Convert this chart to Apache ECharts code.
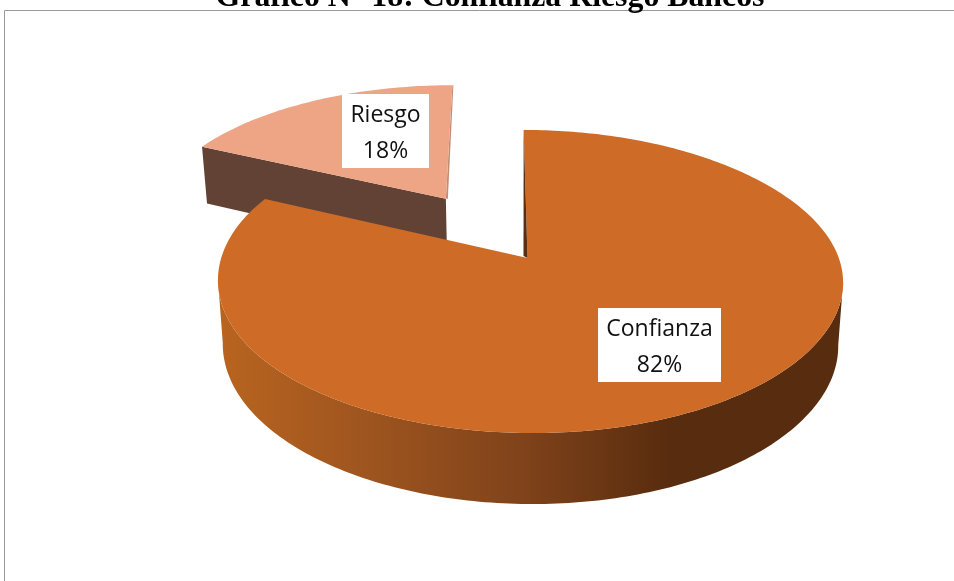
<!DOCTYPE html>
<html><head><meta charset="utf-8">
<style>html,body{margin:0;padding:0;background:#fff;overflow:hidden}#c{width:954px;height:581px}</style>
<script src="https://cdn.jsdelivr.net/npm/echarts@6/dist/echarts.min.js"></script>
</head><body><div id="c"></div>
<script>
var titleText = 'Gráfico N° 18: Confianza Riesgo Bancos';
var categories = ['Confianza', 'Riesgo'];
var values = [82, 18];

// Projection of the tilted disc (layout only)
var view = {cx: 527.5, cy: 258, A: 308.8, B: 147.9, k: 0.155, shear: 0.03, shrink: 0.0155, drop: 62.3, bulge: 2.5};
var explode = [0, 0.505];
var nudgeX = [0, -1.5];
var topColors = ['#CD6B27', '#EDA586'];
var wallColors = [null, '#614235'];
var sliverColors = ['#5A2E10', '#C28C74'];
var labelBoxes = [{x: 598, y: 308, w: 123, h: 74}, {x: 342, y: 94, w: 87, h: 74}];

function project(u, v, z, b) {
  var w = 1 - view.k * v, x = view.A * u / w, y = view.B * v / w, sh = view.shear * y;
  if (b) x += view.bulge * Math.pow(u, 6);
  if (z) { x *= 1 - view.shrink; y = y * (1 - view.shrink) + view.drop / w; }
  return [view.cx + x + sh, view.cy + y];
}
function arcPoints(a0, a1, ox, oy, z, b) {
  var pts = [], n = Math.max(8, Math.ceil(Math.abs(a1 - a0) * 60));
  for (var i = 0; i <= n; i++) {
    var a = a0 + (a1 - a0) * i / n;
    pts.push(project(ox + Math.sin(a), oy - Math.cos(a), z, b));
  }
  return pts;
}
// Keep only the arc between its rightmost and leftmost points
function visibleSpan(pts) {
  var iMin = 0, iMax = 0;
  pts.forEach(function (p, i) {
    if (p[0] < pts[iMin][0]) iMin = i;
    if (p[0] > pts[iMax][0]) iMax = i;
  });
  return pts.slice(iMax, iMin + 1);
}
function poly(points, fill, z2, dx) {
  return {type: 'polygon', x: dx || 0, shape: {points: points}, style: {fill: fill}, z2: z2, silent: true};
}
var total = values.reduce(function (a, b) { return a + b; }, 0);

function renderSlice(params, api) {
  var i = params.dataIndex, start = 0;
  for (var j = 0; j < i; j++) start += values[j];
  var a0 = start / total * 2 * Math.PI, a1 = (start + api.value(0)) / total * 2 * Math.PI;
  var mid = (a0 + a1) / 2, ox = explode[i] * Math.sin(mid), oy = -explode[i] * Math.cos(mid);
  var z = i === 0 ? 10 : 1, ch = [], dx = nudgeX[i];
  var apex = project(ox, oy, 0), apexB = project(ox, oy, 1);
  var top = [apex].concat(arcPoints(a0, a1, ox, oy, 0, i === 0));
  if (i === 0) {
    var wt = visibleSpan(arcPoints(a0, a1, ox, oy, 0, true));
    var wb = visibleSpan(arcPoints(a0, a1, ox, oy, 1, true)).reverse();
    var grad = new echarts.graphic.LinearGradient(222, 0, 670, 0, [
      {offset: 0, color: '#B8641F'}, {offset: 0.3, color: '#A0561F'},
      {offset: 0.68, color: '#7F421A'}, {offset: 1, color: '#582C0E'}], true);
    ch.push(poly(wt.concat(wb), grad, z));
    var far = project(0, -1, 0);
    ch.push(poly([far, apex, [apex[0] - 4, apex[1] - 2]], sliverColors[i], z + 2));
  } else {
    var cL = project(ox + Math.sin(a0), oy - Math.cos(a0), 0), cLb = project(ox + Math.sin(a0), oy - Math.cos(a0), 1);
    ch.push(poly([cL, apex, apexB, cLb], wallColors[i], z, dx));
    var farR = project(ox + Math.sin(a1), oy - Math.cos(a1), 0);
    ch.push(poly([farR, [farR[0] + 1, farR[1]], [apex[0] + 2, apex[1]], apex], sliverColors[i], z, dx));
  }
  ch.push(poly(top, topColors[i], z + 1, dx));
  return {type: 'group', children: ch};
}
function renderLabel(params, api) {
  var i = params.dataIndex, b = labelBoxes[i];
  return {type: 'group', children: [
    {type: 'rect', shape: {x: b.x, y: b.y, width: b.w, height: b.h}, style: {fill: '#fff'}, z2: 30, silent: true},
    {type: 'text', x: b.x + b.w / 2, y: b.y + b.h / 2 + 2, z2: 31, silent: true,
     style: {text: categories[i] + '\n' + api.value(0) + '%', align: 'center', verticalAlign: 'middle',
       font: '23px "Open Sans", sans-serif', lineHeight: 36, fill: '#111'}}
  ]};
}
var sliceData = categories.map(function (c, i) { return {name: c, value: values[i]}; });
var chart = echarts.init(document.getElementById('c'), null, {renderer: 'canvas'});
chart.setOption({
  animation: false,
  backgroundColor: '#fff',
  title: {text: titleText, left: 485, top: -23, textAlign: 'center',
    textStyle: {fontFamily: '"Liberation Serif", serif', fontWeight: 'bold', fontSize: 31.8, color: '#000'}},
  tooltip: {show: false},
  graphic: [{type: 'rect', shape: {x: 4.5, y: 10.5, width: 1000, height: 640},
    style: {fill: 'none', stroke: '#999999', lineWidth: 1}, silent: true, z: -1}],
  series: [
    {type: 'custom', coordinateSystem: 'none', renderItem: renderSlice, data: sliceData, z: 2, silent: true},
    {type: 'custom', coordinateSystem: 'none', renderItem: renderLabel, data: sliceData, z: 3, silent: true}
  ]
});
</script></body></html>
